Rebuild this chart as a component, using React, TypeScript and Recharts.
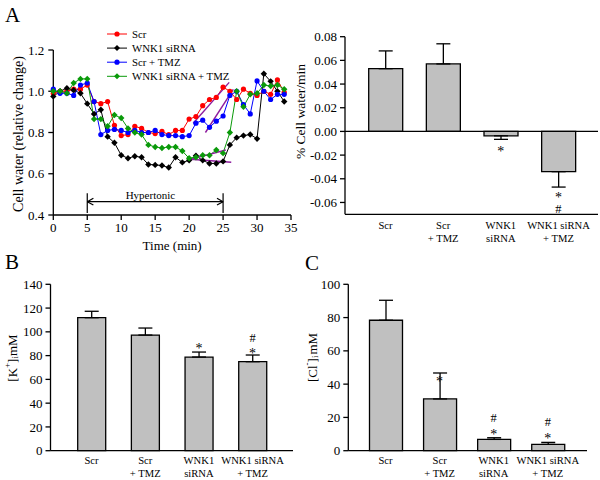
import React from 'react';
import {
  LineChart,
  Line,
  XAxis,
  YAxis,
  Legend,
  ReferenceLine,
  ReferenceDot,
  BarChart,
  Bar,
  ErrorBar,
} from 'recharts';

const FONT = "'Liberation Serif', 'DejaVu Serif', 'Times New Roman', serif";
const BAR_FILL = '#c0c0c0';
const PURPLE = '#8e1c9e';

// ---- panel A (left): cell water over time ----
const minutes = [0, 1, 2, 3, 4, 5, 6, 7, 8, 9, 10, 11, 12, 13, 14, 15, 16, 17, 18, 19, 20, 21, 22, 23, 24, 25, 26, 27, 28, 29, 30, 31, 32, 33, 34];
const scrWater = [0.99, 1.0, 1.0, 1.01, 1.01, 1.03, 0.95, 0.94, 0.95, 0.835, 0.785, 0.79, 0.83, 0.82, 0.8, 0.795, 0.805, 0.79, 0.81, 0.81, 0.865, 0.877, 0.93, 0.96, 0.97, 1.02, 1.0, 0.96, 1.01, 0.99, 0.98, 1.0, 0.985, 1.055, 0.995];
const wnkWater = [0.975, 1.0, 1.015, 1.005, 0.99, 0.94, 0.89, 0.91, 0.78, 0.75, 0.69, 0.675, 0.685, 0.68, 0.645, 0.643, 0.64, 0.63, 0.68, 0.655, 0.665, 0.687, 0.665, 0.65, 0.65, 0.66, 0.74, 0.775, 0.785, 0.79, 0.77, 1.085, 1.048, 1.0, 0.95];
const scrTmzWater = [1.01, 0.99, 0.99, 0.98, 1.03, 1.04, 0.95, 0.79, 0.81, 0.815, 0.81, 0.8, 0.81, 0.8, 0.8, 0.81, 0.79, 0.785, 0.785, 0.78, 0.785, 0.845, 0.86, 0.825, 0.855, 0.88, 0.98, 1.0, 0.935, 0.89, 1.05, 1.0, 0.96, 0.985, 0.985];
const wnkTmzWater = [1.0, 1.0, 0.99, 1.04, 1.06, 1.06, 0.865, 0.865, 0.83, 0.885, 0.87, 0.82, 0.8, 0.79, 0.74, 0.73, 0.725, 0.73, 0.73, 0.71, 0.675, 0.68, 0.69, 0.69, 0.715, 0.7, 0.8, 1.0, 0.925, 0.985, 0.99, 1.03, 1.025, 1.03, 1.01];

// regression lines during recovery
const fitScr = [{ t: 20.6, v: 0.845 }, { t: 25.9, v: 1.043 }];
const fitScrTmz = [{ t: 22.4, v: 0.8 }, { t: 26.5, v: 1.009 }];
const fitWnkTmz = [{ t: 20.2, v: 0.67 }, { t: 25.4, v: 0.715 }];
const fitWnk = [{ t: 20.2, v: 0.67 }, { t: 26.2, v: 0.656 }];

const timeTicks = [0, 5, 10, 15, 20, 25, 30, 35];
const waterTicks = [0.4, 0.6, 0.8, 1.0, 1.2];

const waterData = minutes.map((t, i) => ({
  t,
  scr: scrWater[i],
  wnk: wnkWater[i],
  scrTmz: scrTmzWater[i],
  wnkTmz: wnkTmzWater[i],
}));

// ---- bar panels ----
const groups = ['Scr', 'Scr\n+ TMZ', 'WNK1\nsiRNA', 'WNK1 siRNA\n+ TMZ'];

const rateMeans = [0.053, 0.057, -0.0037, -0.034];
const rateErrs = [0.015, 0.017, 0.003, 0.013];
const rateTicks = [-0.06, -0.04, -0.02, 0, 0.02, 0.04, 0.06, 0.08];
const rateMarks = [
  { g: 2, text: '*', y: -0.0145 },
  { g: 3, text: '*', y: -0.054 },
  { g: 3, text: '#', y: -0.065 },
];

const kMeans = [111.9, 97.3, 78.8, 74.9];
const kErrs = [5.4, 5.9, 4.2, 5.6];
const kTicks = [0, 20, 40, 60, 80, 100, 120, 140];
const kMarks = [
  { g: 2, text: '*', y: 88.1 },
  { g: 3, text: '#', y: 95.3 },
  { g: 3, text: '*', y: 83.9 },
];

const clMeans = [78.4, 31.1, 6.8, 3.8];
const clErrs = [12, 15.6, 1.0, 1.2];
const clTicks = [0, 20, 40, 60, 80, 100];
const clMarks = [
  { g: 1, text: '*', y: 43.3 },
  { g: 2, text: '#', y: 19.7 },
  { g: 2, text: '*', y: 11.2 },
  { g: 3, text: '#', y: 17.3 },
  { g: 3, text: '*', y: 8.7 },
];

const toBars = (means: number[], errs: number[]) =>
  groups.map((name, i) => ({
    name,
    value: means[i],
    err: means[i] >= 0 ? [0, errs[i]] : [errs[i], 0],
  }));

const diamond = (color: string) => (p: any) => {
  if (p.cx == null || p.cy == null) return <g key={`d-${p.index}`} />;
  const s = 3.2;
  return (
    <path
      key={`d-${p.index}`}
      d={`M${p.cx},${p.cy - s}L${p.cx + s},${p.cy}L${p.cx},${p.cy + s}L${p.cx - s},${p.cy}Z`}
      fill={color}
    />
  );
};

const legendItems = [
  { label: 'Scr', color: '#ff0000', shape: 'circle' },
  { label: 'WNK1 siRNA', color: '#000000', shape: 'diamond' },
  { label: 'Scr + TMZ', color: '#0000ff', shape: 'circle' },
  { label: 'WNK1 siRNA + TMZ', color: '#0a9a0a', shape: 'diamond' },
];

const WaterLegend = () => (
  <svg width={200} height={58}>
    {legendItems.map((it, i) => {
      const y = 6 + i * 14.1;
      return (
        <g key={it.label}>
          <line x1={0} x2={20} y1={y} y2={y} stroke={it.color} strokeWidth={1} />
          {it.shape === 'circle' ? (
            <circle cx={10} cy={y} r={2.6} fill={it.color} />
          ) : (
            <path d={`M10,${y - 3}L13,${y}L10,${y + 3}L7,${y}Z`} fill={it.color} />
          )}
          <text x={25} y={y} dy="0.34em" fontSize={10.8} style={{ fontFamily: FONT }} fill="#000">
            {it.label}
          </text>
        </g>
      );
    })}
  </svg>
);

const sideLabel = (content: React.ReactNode, dx: number, dy: number, size: number) => (props: any) => {
  const vb = props.viewBox || { x: 0, y: 0, height: 0 };
  const cx = vb.x + dx;
  const cy = vb.y + vb.height / 2 + dy;
  return (
    <text
      x={cx}
      y={cy}
      transform={`rotate(-90 ${cx} ${cy})`}
      textAnchor="middle"
      dominantBaseline="central"
      fontSize={size}
      style={{ fontFamily: FONT }}
      fill="#000"
    >
      {content}
    </text>
  );
};

const CategoryTick = (props: any) => {
  const { x, y, payload, first = 14, gap = 12.8 } = props;
  const lines = String(payload.value).split('\n');
  return (
    <text x={x} y={y} textAnchor="middle" fontSize={10.6} style={{ fontFamily: FONT }} fill="#000">
      {lines.map((ln, i) => (
        <tspan key={i} x={x} dy={i === 0 ? first : gap}>
          {ln}
        </tspan>
      ))}
    </text>
  );
};

const markLabel = (text: string) => (props: any) => {
  const vb = props.viewBox || { x: 0, y: 0, width: 0, height: 0 };
  const cx = vb.x + (vb.width || 0) / 2;
  const cy = vb.y + (vb.height || 0) / 2;
  return (
    <text
      x={cx}
      y={cy}
      dy={text === '*' ? '0.5em' : '0.36em'}
      textAnchor="middle"
      fontSize={text === '*' ? 14 : 12.5}
      style={{ fontFamily: FONT }}
      fill="#000"
    >
      {text}
    </text>
  );
};

function WaterTimeChart() {
  const tickStyle = { fontSize: 13, fill: '#000', style: { fontFamily: FONT } };
  return (
    <LineChart width={300} height={258} data={waterData} margin={{ top: 50, right: 9, bottom: 8, left: 13 }}>
      <XAxis
        type="number"
        dataKey="t"
        domain={[0, 35]}
        ticks={timeTicks}
        height={35}
        stroke="#000"
        strokeWidth={1.3}
        tickSize={5}
        tickMargin={3}
        tick={tickStyle}
        label={{ value: 'Time (min)', position: 'insideBottom', offset: 0, fontSize: 13, style: { fontFamily: FONT }, fill: '#000' }}
      />
      <YAxis
        type="number"
        domain={[0.4, 1.2]}
        ticks={waterTicks}
        width={40.3}
        stroke="#000"
        strokeWidth={1.3}
        tickSize={5}
        tickMargin={4}
        tick={tickStyle}
        tickFormatter={(v: number) => v.toFixed(1)}
        label={sideLabel('Cell water (relative change)', 5, 1.5, 14)}
      />
      <Legend
        layout="vertical"
        align="center"
        verticalAlign="middle"
        wrapperStyle={{ top: 28, left: 106.5, width: 200, height: 58 }}
        content={<WaterLegend />}
      />
      <ReferenceLine segment={[{ x: 5, y: 0.4646 }, { x: 25, y: 0.4646 }]} stroke="#000" strokeWidth={1.2} />
      <ReferenceLine segment={[{ x: 5, y: 0.41 }, { x: 5, y: 0.505 }]} stroke="#000" strokeWidth={1.2} />
      <ReferenceLine segment={[{ x: 25, y: 0.41 }, { x: 25, y: 0.505 }]} stroke="#000" strokeWidth={1.2} />
      <ReferenceLine segment={[{ x: 5, y: 0.4646 }, { x: 5.9, y: 0.481 }]} stroke="#000" strokeWidth={1.2} />
      <ReferenceLine segment={[{ x: 5, y: 0.4646 }, { x: 5.9, y: 0.448 }]} stroke="#000" strokeWidth={1.2} />
      <ReferenceLine segment={[{ x: 25, y: 0.4646 }, { x: 24.1, y: 0.481 }]} stroke="#000" strokeWidth={1.2} />
      <ReferenceLine segment={[{ x: 25, y: 0.4646 }, { x: 24.1, y: 0.448 }]} stroke="#000" strokeWidth={1.2} />
      <ReferenceDot
        x={14.3}
        y={0.4646}
        r={0}
        stroke="none"
        label={{ value: 'Hypertonic', position: 'top', offset: 2.5, fontSize: 11, style: { fontFamily: FONT }, fill: '#000' }}
      />
      <Line dataKey="scr" stroke="#ff0000" strokeWidth={1} dot={{ r: 2.6, fill: '#ff0000', strokeWidth: 0 }} isAnimationActive={false} />
      <Line dataKey="wnk" stroke="#000000" strokeWidth={1} dot={diamond('#000000')} isAnimationActive={false} />
      <Line dataKey="scrTmz" stroke="#0000ff" strokeWidth={1} dot={{ r: 2.6, fill: '#0000ff', strokeWidth: 0 }} isAnimationActive={false} />
      <Line dataKey="wnkTmz" stroke="#0a9a0a" strokeWidth={1} dot={diamond('#0a9a0a')} isAnimationActive={false} />
      <Line data={fitScr} dataKey="v" stroke={PURPLE} strokeWidth={1.4} dot={false} isAnimationActive={false} />
      <Line data={fitScrTmz} dataKey="v" stroke={PURPLE} strokeWidth={1.4} dot={false} isAnimationActive={false} />
      <Line data={fitWnkTmz} dataKey="v" stroke={PURPLE} strokeWidth={1.4} dot={false} isAnimationActive={false} />
      <Line data={fitWnk} dataKey="v" stroke={PURPLE} strokeWidth={1.4} dot={false} isAnimationActive={false} />
    </LineChart>
  );
}

type BarPanelProps = {
  data: { name: string; value: number; err: number[] }[];
  marks: { g: number; text: string; y: number }[];
  width: number;
  height: number;
  margin: { top: number; right: number; bottom: number; left: number };
  yWidth: number;
  xHeight: number;
  padding: { left: number; right: number };
  domain: [number, number];
  ticks: number[];
  tickFmt?: (v: number) => string;
  tickFont: number;
  barSize: number;
  label: (p: any) => React.ReactElement;
  zeroLine?: boolean;
  first: number;
  gap: number;
};

function BarPanel(p: BarPanelProps) {
  return (
    <BarChart width={p.width} height={p.height} data={p.data} margin={p.margin}>
      <XAxis
        dataKey="name"
        height={p.xHeight}
        padding={p.padding}
        stroke="#000"
        strokeWidth={1.3}
        tickLine={false}
        tickSize={0}
        tickMargin={0}
        interval={0}
        tick={<CategoryTick first={p.first} gap={p.gap} />}
      />
      <YAxis
        type="number"
        domain={p.domain}
        ticks={p.ticks}
        width={p.yWidth}
        stroke="#000"
        strokeWidth={1.3}
        tickSize={5}
        tickMargin={3}
        tick={{ fontSize: p.tickFont, fill: '#000', style: { fontFamily: FONT } }}
        tickFormatter={p.tickFmt}
        label={p.label}
      />
      <Bar dataKey="value" fill={BAR_FILL} stroke="#000" strokeWidth={1.3} barSize={p.barSize} isAnimationActive={false}>
        <ErrorBar dataKey="err" width={7} stroke="#000" strokeWidth={1.3} direction="y" />
      </Bar>
      {p.zeroLine && <ReferenceLine y={0} stroke="#000" strokeWidth={1.3} />}
      {p.marks.map((m, i) => (
        <ReferenceDot key={i} x={groups[m.g]} y={m.y} r={0} stroke="none" fill="none" label={markLabel(m.text)} />
      ))}
    </BarChart>
  );
}

const kLabel = (
  <>
    [K<tspan dy={-5} fontSize={9}>+</tspan>
    <tspan dy={5}>]</tspan>
    <tspan dy={3} fontSize={9}>i</tspan>
    <tspan dy={-3}>mM</tspan>
  </>
);

const clLabel = (
  <>
    [Cl<tspan dy={-5} fontSize={9}>-</tspan>
    <tspan dy={5}>]</tspan>
    <tspan dy={3} fontSize={9}>i</tspan>
    <tspan dy={-3} dx={1}>mM</tspan>
  </>
);

export default function App() {
  return (
    <div
      style={{
        position: 'absolute',
        left: 0,
        top: 0,
        width: 600,
        height: 480,
        background: '#fff',
        overflow: 'hidden',
        fontFamily: FONT,
      }}
    >
      <div style={{ position: 'absolute', left: 0, top: 0 }}>
        <WaterTimeChart />
      </div>
      <div style={{ position: 'absolute', left: 285, top: 0 }}>
        <BarPanel
          data={toBars(rateMeans, rateErrs)}
          marks={rateMarks}
          width={315}
          height={250}
          margin={{ top: 36.7, right: 2, bottom: 5.7, left: 5 }}
          yWidth={55}
          xHeight={30}
          padding={{ left: 11.7, right: 10.7 }}
          domain={[-0.07, 0.08]}
          ticks={rateTicks}
          tickFmt={(v: number) => v.toFixed(2)}
          tickFont={13}
          barSize={34}
          label={sideLabel('% Cell water/min', 10, -14, 13.5)}
          zeroLine
          first={14.4}
          gap={12.8}
        />
      </div>
      <div style={{ position: 'absolute', left: 0, top: 240 }}>
        <BarPanel
          data={toBars(kMeans, kErrs)}
          marks={kMarks}
          width={300}
          height={240}
          margin={{ top: 44.3, right: 7, bottom: 0.3, left: 10.5 }}
          yWidth={40}
          xHeight={29}
          padding={{ left: 14.2, right: 13.6 }}
          domain={[0, 140]}
          ticks={kTicks}
          tickFont={13}
          barSize={28}
          label={sideLabel(kLabel, 1.5, -9.5, 13)}
          first={13.3}
          gap={13.3}
        />
      </div>
      <div style={{ position: 'absolute', left: 300, top: 240 }}>
        <BarPanel
          data={toBars(clMeans, clErrs)}
          marks={clMarks}
          width={300}
          height={240}
          margin={{ top: 44.3, right: 13, bottom: 0.3, left: 8.3 }}
          yWidth={40}
          xHeight={29}
          padding={{ left: 10.2, right: 12.2 }}
          domain={[0, 100]}
          ticks={clTicks}
          tickFont={13}
          barSize={33}
          label={sideLabel(clLabel, 3.7, -10, 13)}
          first={13.3}
          gap={13.3}
        />
      </div>
      <svg width={600} height={480} style={{ position: 'absolute', left: 0, top: 0, pointerEvents: 'none' }}>
        <text x={5} y={21.5} fontSize={21} style={{ fontFamily: FONT }} fill="#000">A</text>
        <text x={5} y={268.5} fontSize={21} style={{ fontFamily: FONT }} fill="#000">B</text>
        <text x={305} y={270} fontSize={21} style={{ fontFamily: FONT }} fill="#000">C</text>
      </svg>
    </div>
  );
}
